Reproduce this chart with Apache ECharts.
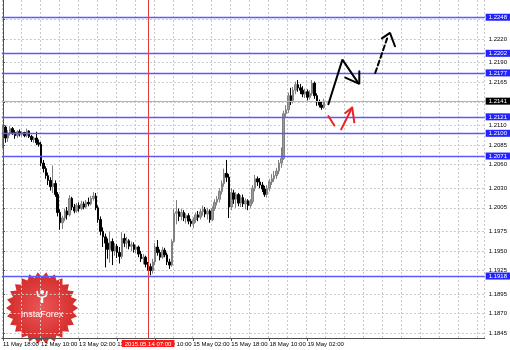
<!DOCTYPE html>
<html><head><meta charset="utf-8">
<script src="https://cdn.jsdelivr.net/npm/echarts@6/dist/echarts.min.js"></script>
<style>html,body{margin:0;padding:0;background:#fff}#c{width:510px;height:350px}</style>
</head><body><div id="c"></div>
<script>
// ---- data ----
const xTickLabels = ['11 May 18:00','12 May 10:00','13 May 02:00','13 May 18:00','14 May 10:00','15 May 02:00','15 May 18:00','18 May 10:00','19 May 02:00'];
const yTickLabels = [1.2220,1.2190,1.2165,1.2110,1.2085,1.2060,1.2030,1.2005,1.1975,1.1950,1.1925,1.1895,1.1870,1.1845];
const yGridValues = [1.2246,1.2220,1.2190,1.2165,1.2140,1.2110,1.2085,1.2060,1.2030,1.2005,1.1975,1.1950,1.1925,1.1895,1.1870,1.1845];
const levels = [1.2248,1.2202,1.2177,1.2121,1.2100,1.2071,1.1918];
const currentPrice = 1.2141;
const cursorTime = '14 May 07:00';
const cursorLabel = '2015.05.14 07:00';

const open = [1.2101,1.2108,1.2094,1.2100,1.2106,1.2101,1.2097,1.2102,1.2099,1.2101,
1.2097,1.2103,1.2096,1.2092,1.2094,1.2088,1.2086,1.2062,1.2055,1.2046,
1.2040,1.2032,1.2036,1.2022,1.1999,1.1986,1.1992,1.2001,1.1996,1.2017,
1.2006,1.2001,1.2008,1.2004,1.2010,1.2006,1.2012,1.2010,1.2017,1.2020,
1.2005,1.1990,1.1975,1.1968,1.1960,1.1952,1.1962,1.1950,1.1956,1.1948,
1.1943,1.1966,1.1960,1.1963,1.1956,1.1958,1.1952,1.1955,1.1946,1.1940,
1.1942,1.1933,1.1930,1.1925,1.1936,1.1955,1.1948,1.1942,1.1951,1.1945,
1.1936,1.1932,1.1962,1.1998,1.2000,1.1994,1.1999,1.1992,1.1995,1.1988,
1.1985,1.1990,1.1996,1.1993,1.2000,1.2003,1.1997,1.2001,1.1990,1.2004,
1.2012,1.2016,1.2026,1.2036,1.2049,1.2044,1.2006,1.2024,1.2016,1.2022,
1.2011,1.2018,1.2010,1.2014,1.2008,1.2013,1.2030,1.2042,1.2038,1.2034,
1.2029,1.2022,1.2030,1.2038,1.2042,1.2046,1.2052,1.2062,1.2068,1.2125,
1.2130,1.2148,1.2142,1.2155,1.2162,1.2158,1.2155,1.2150,1.2153,1.2146,
1.2151,1.2164,1.2148,1.2140,1.2136,1.2133];
const close = [1.2108,1.2094,1.2100,1.2106,1.2101,1.2097,1.2102,1.2099,1.2101,1.2097,
1.2103,1.2096,1.2092,1.2094,1.2088,1.2086,1.2062,1.2055,1.2046,1.2040,
1.2032,1.2036,1.2022,1.1999,1.1986,1.1992,1.2001,1.1996,1.2017,1.2006,
1.2001,1.2008,1.2004,1.2010,1.2006,1.2012,1.2010,1.2017,1.2020,1.2005,
1.1990,1.1975,1.1968,1.1960,1.1952,1.1962,1.1950,1.1956,1.1948,1.1943,
1.1966,1.1960,1.1963,1.1956,1.1958,1.1952,1.1955,1.1946,1.1940,1.1942,
1.1933,1.1930,1.1925,1.1936,1.1955,1.1948,1.1942,1.1951,1.1945,1.1936,
1.1932,1.1962,1.1998,1.2000,1.1994,1.1999,1.1992,1.1995,1.1988,1.1985,
1.1990,1.1996,1.1993,1.2000,1.2003,1.1997,1.2001,1.1990,1.2004,1.2012,
1.2016,1.2026,1.2036,1.2049,1.2044,1.2006,1.2024,1.2016,1.2022,1.2011,
1.2018,1.2010,1.2014,1.2008,1.2013,1.2030,1.2042,1.2038,1.2034,1.2029,
1.2022,1.2030,1.2038,1.2042,1.2046,1.2052,1.2062,1.2068,1.2125,1.2130,
1.2148,1.2142,1.2155,1.2162,1.2158,1.2155,1.2150,1.2153,1.2146,1.2151,
1.2164,1.2148,1.2140,1.2136,1.2133,1.2141];
const low = [1.2081,1.2088,1.2089,1.2097,1.2098,1.2093,1.2094,1.2096,1.2096,1.2095,
1.2095,1.2094,1.2089,1.2088,1.2085,1.2083,1.2058,1.2050,1.2042,1.2034,
1.2027,1.2024,1.2019,1.1994,1.1977,1.1978,1.1988,1.1990,1.1994,1.2002,
1.1998,1.1999,1.2000,1.2002,1.2003,1.2004,1.2007,1.2008,1.2014,1.2002,
1.1986,1.1970,1.1955,1.1929,1.1940,1.1935,1.1932,1.1944,1.1941,1.1934,
1.1940,1.1955,1.1953,1.1952,1.1950,1.1948,1.1947,1.1942,1.1936,1.1933,
1.1929,1.1925,1.1919,1.1921,1.1932,1.1944,1.1938,1.1940,1.1942,1.1932,
1.1927,1.1930,1.1960,1.1984,1.1988,1.1989,1.1988,1.1985,1.1984,1.1981,
1.1979,1.1986,1.1988,1.1990,1.1995,1.1993,1.1990,1.1986,1.1988,1.2001,
1.2008,1.2012,1.2022,1.2032,1.2038,1.1992,1.2002,1.2010,1.2005,1.2007,
1.2006,1.2006,1.2003,1.2002,1.2005,1.2010,1.2026,1.2033,1.2030,1.2025,
1.2019,1.2018,1.2026,1.2034,1.2038,1.2042,1.2048,1.2056,1.2066,1.2120,
1.2126,1.2136,1.2138,1.2150,1.2153,1.2150,1.2146,1.2145,1.2142,1.2143,
1.2148,1.2144,1.2135,1.2133,1.2130,1.2131];
const high = [1.2111,1.2110,1.2104,1.2109,1.2108,1.2104,1.2104,1.2105,1.2103,1.2102,
1.2106,1.2104,1.2098,1.2096,1.2102,1.2092,1.2089,1.2066,1.2058,1.2050,
1.2044,1.2059,1.2040,1.2025,1.2003,1.1995,1.2004,1.2006,1.2021,1.2019,
1.2010,1.2011,1.2012,1.2014,1.2013,1.2015,1.2018,1.2020,1.2025,1.2024,
1.2008,1.1994,1.1980,1.1972,1.1966,1.1975,1.1966,1.1960,1.1959,1.1955,
1.1974,1.1972,1.1968,1.1965,1.1962,1.1961,1.1958,1.1957,1.1950,1.1946,
1.1944,1.1936,1.1934,1.1940,1.1960,1.1964,1.1952,1.1955,1.1954,1.1948,
1.1940,1.1965,1.2004,1.2015,1.2004,1.2004,1.2002,1.1998,1.1998,1.1991,
1.1993,1.1999,1.2001,1.2004,1.2008,1.2006,1.2005,1.2003,1.2007,1.2016,
1.2020,1.2030,1.2040,1.2055,1.2066,1.2048,1.2030,1.2028,1.2025,1.2024,
1.2021,1.2022,1.2017,1.2016,1.2016,1.2034,1.2047,1.2045,1.2043,1.2038,
1.2033,1.2034,1.2042,1.2048,1.2052,1.2056,1.2066,1.2082,1.2129,1.2136,
1.2152,1.2158,1.2159,1.2166,1.2168,1.2163,1.2160,1.2157,1.2156,1.2155,
1.2168,1.2166,1.2151,1.2143,1.2140,1.2144];

// forecast drawings in (bar index, price)
const solidPath = [[136.8,1.2137],[142.7,1.2194],[149.4,1.2164]];
const solidHead = [[143.9,1.2171],[149.8,1.2163],[149.8,1.2179]];
const dashPath = [[156.5,1.2177],[161.5,1.2221]];
const dashHead = [[159.3,1.2221],[162.7,1.2228],[164.8,1.2211]];
const redPath1 = [[136.8,1.2122],[139.3,1.2110]];
const redPath2 = [[142.2,1.2105],[146.8,1.2133]];
const redHead = [[143.9,1.2126],[146.8,1.2133],[147.7,1.2114]];

// ---- hourly categories (weekend skipped) ----
const TOTAL_BARS = 203;
const categories = [];
(function(){
  let t = Date.UTC(2015,4,11,18);
  for (let n=0;n<TOTAL_BARS;n++){
    const d = new Date(t);
    categories.push(d.getUTCDate()+' May '+String(d.getUTCHours()).padStart(2,'0')+':00');
    t += 3600000;
    let nd = new Date(t);
    while (nd.getUTCDay()===6 || nd.getUTCDay()===0){ t += 3600000; nd = new Date(t); }
  }
})();
const candles = open.map((o,i)=>[o, close[i], low[i], high[i]]);

const chart = echarts.init(document.getElementById('c'), null, {renderer:'canvas'});
const F = 'Liberation Sans, Arial, sans-serif';
const isTick = (idx, val) => xTickLabels.indexOf(val) >= 0;

// starburst logo shape
const burst = [];
const NB = 26;
for (let k=0;k<NB*2;k++){ const a = k*Math.PI/NB; const r = (k%2)?31:36; burst.push([r*Math.cos(a), r*Math.sin(a)]); }

function drawLine(data, color, type){
  return {type:'line', xAxisIndex:1, yAxisIndex:0, data:data, symbol:'none', silent:true, z:6,
    lineStyle:{color:color, width:2, type:type||'solid', cap:'round'}, animation:false};
}
const lbl = (txt,bg,pos) => ({show:true, position:pos, distance:pos==='start'?2:1, formatter:txt,
  color:'#fff', backgroundColor:bg, padding:[1,3,0,3], fontSize:6, fontFamily:F});

chart.setOption({
  animation:false,
  backgroundColor:'#ffffff',
  grid:{left:0, right:25, top:0, bottom:12, containLabel:false},
  xAxis:[{
    type:'category', data:categories, boundaryGap:true,
    axisLine:{show:true, lineStyle:{color:'#505050', width:1}},
    axisTick:{show:true, alignWithLabel:true, interval:isTick, length:3, lineStyle:{color:'#505050'}},
    axisLabel:{interval:isTick, align:'left', margin:3, fontSize:6, fontFamily:F, color:'#000'},
    splitLine:{show:true, interval:(i)=>i%8===0, lineStyle:{color:'#c8c8c8', type:[2,2], width:1}}
  },{
    type:'value', min:-0.5, max:TOTAL_BARS-0.5, show:false
  }],
  yAxis:{
    type:'value', position:'right', min:1.1839, max:1.2270, scale:true,
    axisLine:{show:true, lineStyle:{color:'#505050', width:1}},
    axisTick:{show:true, length:2, customValues:yGridValues, lineStyle:{color:'#505050'}},
    axisLabel:{customValues:yTickLabels, margin:4, fontSize:6, fontFamily:F, color:'#000', formatter:(v)=>Number(v).toFixed(4)},
    splitLine:{show:true, lineStyle:{color:'#c8c8c8', type:[2,2], width:1}}
  },
  series:[
    {
      type:'candlestick', data:candles, barWidth:2, z:3,
      itemStyle:{color:'#9a9a9a', borderColor:'#808080', color0:'#000000', borderColor0:'#000000', borderWidth:1}
    },
    {
      type:'line', data:[], silent:true, z:4,
      markLine:{
        silent:true, symbol:['none','none'], animation:false, precision:4,
        data:[
          ...levels.map(v=>({yAxis:v,
            lineStyle:{color:'#5a5aff', width:1.3, type:'solid'},
            label:lbl(Number(v).toFixed(4),'#2323ff','end')})),
          {yAxis:currentPrice, lineStyle:{color:'#b4b4b4', width:1, type:'solid'},
            label:lbl(currentPrice.toFixed(4),'#000','end')},
          {xAxis:cursorTime, lineStyle:{color:'#e03c3c', width:1, type:'solid'},
            label:lbl(cursorLabel,'#ff1a1a','start')}
        ]
      }
    },
    drawLine(solidPath,'#000'),
    drawLine(solidHead,'#000'),
    drawLine(dashPath,'#000',[5,3]),
    drawLine(dashHead,'#000'),
    drawLine(redPath1,'#ee2222'),
    drawLine(redPath2,'#ee2222'),
    drawLine(redHead,'#ee2222')
  ],
  graphic:[{
    type:'group', x:42, y:308, z:20, silent:true,
    children:[
      {type:'polygon', shape:{points:burst},
        style:{fill:new echarts.graphic.RadialGradient(0.5,0.5,0.5,[{offset:0,color:'#ec5656'},{offset:1,color:'#d42c2c'}])}},
      {type:'circle', shape:{cx:0, cy:-16, r:2}, style:{fill:'#fff'}},
      {type:'polyline', shape:{points:[[-5,-17],[-4,-12],[0,-10.5],[4,-12],[5,-17]]}, style:{stroke:'#fff', lineWidth:1.6, fill:null}},
      {type:'rect', shape:{x:-1.2, y:-11, width:2.4, height:6}, style:{fill:'#fff'}},
      {type:'text', x:0, y:7, style:{text:'InstaForex', fill:'#fff', fontSize:9, fontFamily:F, align:'center', verticalAlign:'middle'}}
    ]
  }]
});
</script>
</body></html>
